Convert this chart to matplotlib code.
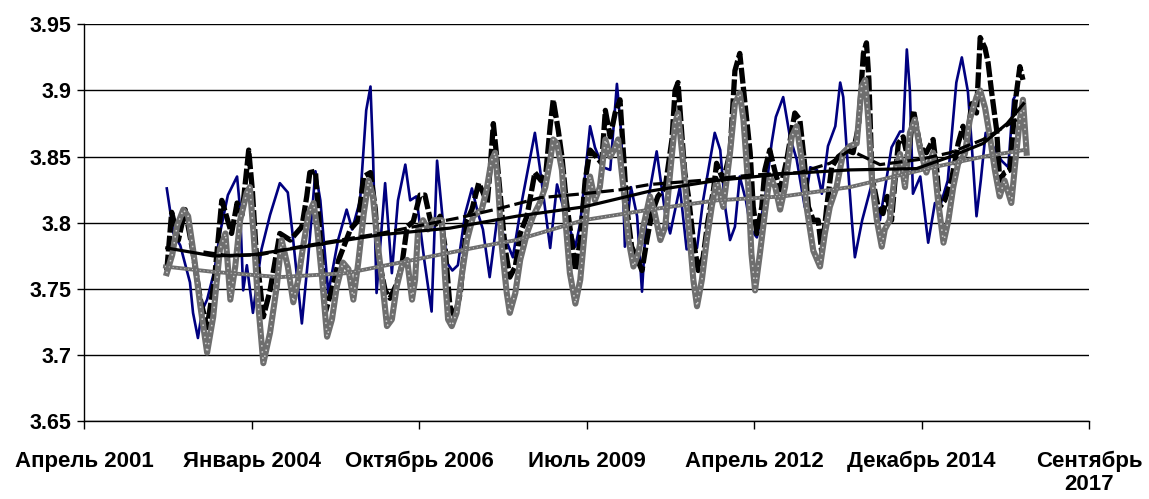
import datetime as dt
import matplotlib
matplotlib.use("Agg")
import matplotlib.pyplot as plt
import matplotlib.dates as mdates

# Series (decimal year, value)
blue_t = [2002.65, 2002.76, 2002.87, 2003.03, 2003.08, 2003.16, 2003.23, 2003.31, 2003.43, 2003.52,
          2003.65, 2003.80, 2003.85, 2003.90, 2003.96, 2004.06, 2004.20, 2004.34, 2004.50, 2004.63,
          2004.70, 2004.86, 2004.96, 2005.08, 2005.16, 2005.29, 2005.45, 2005.59, 2005.68, 2005.81,
          2005.91, 2005.98, 2006.02, 2006.08, 2006.22, 2006.33, 2006.43, 2006.55, 2006.63, 2006.73,
          2006.86, 2006.98, 2007.07, 2007.23, 2007.32, 2007.41, 2007.53, 2007.64, 2007.74, 2007.82,
          2007.93, 2008.05, 2008.18, 2008.31, 2008.46, 2008.67, 2008.75, 2008.92, 2009.03, 2009.16,
          2009.33, 2009.41, 2009.57, 2009.65, 2009.78, 2009.90, 2010.01, 2010.08, 2010.14, 2010.24,
          2010.34, 2010.42, 2010.50, 2010.66, 2010.80, 2010.88, 2011.04, 2011.15, 2011.32, 2011.42,
          2011.61, 2011.70, 2011.78, 2011.86, 2011.94, 2012.02, 2012.12, 2012.20, 2012.30, 2012.43,
          2012.54, 2012.61, 2012.73, 2012.84, 2012.95, 2013.08, 2013.17, 2013.28, 2013.36, 2013.46,
          2013.58, 2013.66, 2013.71, 2013.77, 2013.85, 2013.90, 2014.02, 2014.18, 2014.31, 2014.50,
          2014.64, 2014.69, 2014.75, 2014.80, 2014.85, 2014.97, 2015.10, 2015.21, 2015.29, 2015.42,
          2015.56, 2015.65, 2015.75, 2015.81, 2015.89, 2015.96, 2016.04, 2016.17, 2016.30, 2016.41,
          2016.49, 2016.57]
blue_v = [3.826, 3.792, 3.783, 3.755, 3.732, 3.713, 3.734, 3.742, 3.764, 3.792,
          3.821, 3.835, 3.810, 3.749, 3.768, 3.732, 3.780, 3.806, 3.830, 3.823,
          3.795, 3.724, 3.772, 3.839, 3.817, 3.747, 3.787, 3.810, 3.795, 3.817,
          3.885, 3.903, 3.855, 3.747, 3.830, 3.762, 3.817, 3.844, 3.817, 3.820,
          3.772, 3.733, 3.847, 3.770, 3.764, 3.768, 3.807, 3.826, 3.807, 3.795,
          3.759, 3.802, 3.789, 3.774, 3.817, 3.868, 3.842, 3.781, 3.829, 3.807,
          3.782, 3.800, 3.873, 3.857, 3.842, 3.840, 3.905, 3.868, 3.782, 3.827,
          3.805, 3.748, 3.812, 3.854, 3.807, 3.792, 3.827, 3.780, 3.781, 3.817,
          3.868, 3.855, 3.812, 3.787, 3.797, 3.835, 3.817, 3.795, 3.789, 3.817,
          3.860, 3.880, 3.895, 3.865, 3.848, 3.812, 3.842, 3.840, 3.822, 3.858,
          3.873, 3.906, 3.895, 3.853, 3.802, 3.774, 3.802, 3.830, 3.802, 3.857,
          3.869, 3.869, 3.931, 3.900, 3.822, 3.835, 3.785, 3.815, 3.812, 3.832,
          3.906, 3.925, 3.899, 3.860, 3.805, 3.832, 3.868, 3.857, 3.847, 3.842,
          3.893, 3.900]

black_t = [2002.65, 2002.73, 2002.84, 2002.95, 2003.07, 2003.20, 2003.31, 2003.43, 2003.55, 2003.62,
           2003.71, 2003.80, 2003.88, 2003.99, 2004.05, 2004.11, 2004.23, 2004.34, 2004.50, 2004.67,
           2004.86, 2004.94, 2004.99, 2005.08, 2005.19, 2005.24, 2005.38, 2005.46, 2005.65, 2005.78,
           2005.87, 2005.98, 2006.06, 2006.11, 2006.22, 2006.30, 2006.40, 2006.49, 2006.58, 2006.68,
           2006.79, 2006.87, 2006.96, 2007.05, 2007.12, 2007.20, 2007.28, 2007.36, 2007.45, 2007.56,
           2007.64, 2007.75, 2007.82, 2007.89, 2007.94, 2007.99, 2008.05, 2008.10, 2008.18, 2008.26,
           2008.35, 2008.43, 2008.54, 2008.67, 2008.77, 2008.85, 2008.92, 2008.97, 2009.05, 2009.11,
           2009.18, 2009.27, 2009.33, 2009.41, 2009.49, 2009.57, 2009.67, 2009.76, 2009.82, 2009.90,
           2009.98, 2010.06, 2010.12, 2010.17, 2010.25, 2010.33, 2010.42, 2010.50, 2010.58, 2010.68,
           2010.80, 2010.91, 2010.96, 2011.01, 2011.07, 2011.12, 2011.18, 2011.26, 2011.34, 2011.42,
           2011.50, 2011.59, 2011.64, 2011.75, 2011.86, 2011.94, 2012.02, 2012.10, 2012.19, 2012.24,
           2012.30, 2012.38, 2012.43, 2012.51, 2012.60, 2012.68, 2012.79, 2012.92, 2013.00, 2013.07,
           2013.14, 2013.22, 2013.30, 2013.36, 2013.44, 2013.52, 2013.63, 2013.77, 2013.87, 2013.96,
           2014.04, 2014.09, 2014.13, 2014.18, 2014.28, 2014.36, 2014.43, 2014.50, 2014.61, 2014.69,
           2014.77, 2014.86, 2014.97, 2015.07, 2015.18, 2015.24, 2015.29, 2015.37, 2015.48, 2015.59,
           2015.67, 2015.73, 2015.81, 2015.89, 2015.95, 2016.03, 2016.08, 2016.14, 2016.22, 2016.27,
           2016.35, 2016.44, 2016.52, 2016.60, 2016.65]
black_v = [3.764, 3.808, 3.787, 3.810, 3.780, 3.742, 3.721, 3.757, 3.817, 3.806,
           3.792, 3.815, 3.806, 3.855, 3.825, 3.780, 3.729, 3.749, 3.792, 3.787,
           3.797, 3.820, 3.838, 3.839, 3.767, 3.732, 3.755, 3.772, 3.795, 3.802,
           3.835, 3.838, 3.810, 3.774, 3.749, 3.743, 3.753, 3.767, 3.797, 3.801,
           3.821, 3.821, 3.802, 3.799, 3.805, 3.782, 3.737, 3.729, 3.747, 3.802,
           3.810, 3.830, 3.823, 3.815, 3.842, 3.875, 3.848, 3.823, 3.782, 3.759,
           3.767, 3.792, 3.805, 3.838, 3.832, 3.838, 3.873, 3.893, 3.870, 3.850,
           3.817, 3.787, 3.764, 3.787, 3.832, 3.855, 3.850, 3.845, 3.885, 3.865,
           3.883, 3.893, 3.850, 3.812, 3.782, 3.774, 3.764, 3.787, 3.807, 3.820,
           3.827, 3.863, 3.900, 3.906, 3.868, 3.838, 3.820, 3.787, 3.764, 3.774,
           3.802, 3.825, 3.845, 3.832, 3.853, 3.915, 3.928, 3.893, 3.853, 3.812,
           3.792, 3.812, 3.840, 3.855, 3.838, 3.825, 3.848, 3.883, 3.878, 3.848,
           3.812, 3.802, 3.802, 3.777, 3.812, 3.842, 3.850, 3.855, 3.853, 3.873,
           3.928, 3.936, 3.908, 3.835, 3.812, 3.807, 3.820, 3.802, 3.860, 3.865,
           3.848, 3.885, 3.857, 3.853, 3.863, 3.840, 3.812, 3.817, 3.832, 3.860,
           3.873, 3.860, 3.890, 3.883, 3.940, 3.932, 3.921, 3.898, 3.870, 3.832,
           3.838, 3.840, 3.890, 3.918, 3.908]

gray_t = [2002.65, 2002.74, 2002.82, 2002.92, 2003.00, 2003.08, 2003.20, 2003.31, 2003.41, 2003.52,
          2003.61, 2003.69, 2003.77, 2003.85, 2003.96, 2004.01, 2004.07, 2004.14, 2004.23, 2004.34,
          2004.45, 2004.53, 2004.63, 2004.72, 2004.80, 2004.88, 2004.97, 2005.05, 2005.11, 2005.19,
          2005.27, 2005.35, 2005.43, 2005.53, 2005.62, 2005.70, 2005.78, 2005.87, 2005.95, 2006.02,
          2006.09, 2006.17, 2006.25, 2006.33, 2006.41, 2006.49, 2006.58, 2006.66, 2006.71, 2006.76,
          2006.84, 2006.92, 2007.02, 2007.15, 2007.20, 2007.25, 2007.31, 2007.39, 2007.47, 2007.56,
          2007.66, 2007.80, 2007.88, 2007.96, 2008.02, 2008.07, 2008.13, 2008.21, 2008.26, 2008.35,
          2008.43, 2008.54, 2008.64, 2008.75, 2008.84, 2008.92, 2008.97, 2009.03, 2009.11, 2009.18,
          2009.24, 2009.33, 2009.41, 2009.49, 2009.57, 2009.65, 2009.73, 2009.82, 2009.90, 2009.96,
          2010.03, 2010.12, 2010.20, 2010.28, 2010.36, 2010.44, 2010.55, 2010.63, 2010.72, 2010.80,
          2010.88, 2010.96, 2011.01, 2011.10, 2011.18, 2011.26, 2011.32, 2011.40, 2011.48, 2011.56,
          2011.64, 2011.75, 2011.86, 2011.94, 2012.02, 2012.08, 2012.16, 2012.21, 2012.27, 2012.35,
          2012.43, 2012.51, 2012.60, 2012.68, 2012.76, 2012.87, 2012.95, 2013.03, 2013.11, 2013.22,
          2013.33, 2013.41, 2013.49, 2013.60, 2013.71, 2013.82, 2013.93, 2014.01, 2014.07, 2014.12,
          2014.18, 2014.26, 2014.34, 2014.39, 2014.47, 2014.56, 2014.64, 2014.72, 2014.80, 2014.88,
          2014.97, 2015.07, 2015.18, 2015.26, 2015.35, 2015.43, 2015.51, 2015.59, 2015.70, 2015.78,
          2015.89, 2015.95, 2016.03, 2016.11, 2016.19, 2016.27, 2016.35, 2016.46, 2016.53, 2016.60,
          2016.65, 2016.71]
gray_v = [3.762, 3.776, 3.798, 3.810, 3.805, 3.780, 3.737, 3.702, 3.729, 3.780,
          3.792, 3.742, 3.767, 3.802, 3.823, 3.827, 3.792, 3.742, 3.694, 3.717,
          3.752, 3.787, 3.767, 3.740, 3.757, 3.782, 3.807, 3.815, 3.795, 3.757,
          3.714, 3.727, 3.752, 3.770, 3.765, 3.742, 3.770, 3.807, 3.832, 3.820,
          3.787, 3.757, 3.722, 3.727, 3.752, 3.767, 3.772, 3.742, 3.757, 3.795,
          3.802, 3.795, 3.802, 3.802, 3.759, 3.727, 3.722, 3.732, 3.759, 3.787,
          3.805, 3.810, 3.825, 3.847, 3.853, 3.827, 3.782, 3.747, 3.732, 3.747,
          3.772, 3.792, 3.805, 3.815, 3.827, 3.847, 3.863, 3.860, 3.840, 3.795,
          3.762, 3.739, 3.757, 3.797, 3.835, 3.817, 3.827, 3.863, 3.850, 3.855,
          3.863, 3.825, 3.787, 3.767, 3.777, 3.797, 3.820, 3.807, 3.787, 3.797,
          3.838, 3.875, 3.883, 3.842, 3.800, 3.757, 3.737, 3.757, 3.787, 3.812,
          3.832, 3.812, 3.853, 3.890, 3.898, 3.878, 3.827, 3.777, 3.749, 3.777,
          3.807, 3.835, 3.827, 3.810, 3.827, 3.865, 3.873, 3.848, 3.812, 3.779,
          3.767, 3.792, 3.812, 3.827, 3.853, 3.858, 3.860, 3.903, 3.908, 3.878,
          3.832, 3.802, 3.782, 3.795, 3.802, 3.840, 3.852, 3.827, 3.868, 3.878,
          3.855, 3.838, 3.853, 3.817, 3.785, 3.802, 3.827, 3.845, 3.852, 3.878,
          3.895, 3.900, 3.887, 3.865, 3.840, 3.820, 3.832, 3.815, 3.848, 3.878,
          3.893, 3.853]

# trend lines
trend_solid_t = [2002.65, 2003.41, 2004.07, 2005.05, 2006.14, 2007.28, 2008.37, 2009.46, 2010.55,
                 2011.64, 2012.73, 2013.82, 2014.91, 2015.46, 2016.00, 2016.39, 2016.66]
trend_solid_v = [3.781, 3.775, 3.776, 3.783, 3.791, 3.796, 3.805, 3.812, 3.824,
                 3.832, 3.837, 3.840, 3.841, 3.850, 3.860, 3.875, 3.890]
trend_dash_t = [2003.25, 2003.69, 2004.18, 2004.83, 2005.48, 2006.14, 2006.79, 2007.45, 2008.10,
                2008.76, 2009.46, 2010.06, 2010.55, 2011.37, 2012.18, 2013.00, 2013.49, 2013.82,
                2014.31, 2014.97, 2015.46, 2016.00, 2016.55]
trend_dash_v = [3.778, 3.775, 3.776, 3.782, 3.787, 3.792, 3.798, 3.804, 3.811,
                3.819, 3.822, 3.825, 3.829, 3.832, 3.836, 3.838, 3.845, 3.855,
                3.844, 3.848, 3.853, 3.863, 3.878]
trend_gray_t = [2002.62, 2003.41, 2004.50, 2005.59, 2006.68, 2007.77, 2008.37, 2009.46, 2010.55,
                2011.64, 2012.73, 2013.82, 2015.18, 2016.00, 2016.66]
trend_gray_v = [3.767, 3.763, 3.759, 3.762, 3.772, 3.782, 3.787, 3.802, 3.810,
                3.817, 3.820, 3.827, 3.842, 3.850, 3.855]

tick_dates = ["2001-04-19", "2004-01-15", "2006-10-12", "2009-07-08",
              "2012-04-03", "2014-12-29", "2017-09-24"]
tick_labels = ["Апрель 2001", "Январь 2004", "Октябрь 2006", "Июль 2009",
               "Апрель 2012", "Декабрь 2014", "Сентябрь\n2017"]
y_ticks = [3.65, 3.70, 3.75, 3.80, 3.85, 3.90, 3.95]


def to_num(years):
    out = []
    for y in years:
        base = mdates.date2num(dt.datetime(int(y), 1, 1))
        out.append(base + (y - int(y)) * 365.25)
    return out


def dotted_gray(ax, t, v, lw, z):
    # thick grey line with a light speckle on top, like the Excel dotted pattern
    ax.plot(to_num(t), v, color="#6e6e6e", lw=lw, zorder=z, solid_joinstyle="round")
    ax.plot(to_num(t), v, color="#d0d0d0", lw=lw * 0.25, zorder=z + 0.1,
            linestyle=(0, (1.0, 3.0)))


plt.rcParams["font.family"] = ["Liberation Sans", "DejaVu Sans"]
fig = plt.figure(figsize=(11.49, 4.99), dpi=100)
ax = fig.add_axes([0.0731, 0.1555, 0.8747, 0.7958])

ax.plot(to_num(blue_t), blue_v, color="#000080", lw=1.9, zorder=2)
ax.plot(to_num(black_t), black_v, color="black", lw=3.8, zorder=3,
        linestyle=(0, (3, 0.6)))
dotted_gray(ax, gray_t, gray_v, 4.4, 4)

ax.plot(to_num(trend_solid_t), trend_solid_v, color="black", lw=2.3, zorder=6)
ax.plot(to_num(trend_dash_t), trend_dash_v, color="black", lw=2.3, zorder=6,
        linestyle=(0, (4, 1.5)))
dotted_gray(ax, trend_gray_t, trend_gray_v, 2.8, 5)

ax.set_xlim(mdates.datestr2num(tick_dates[0]), mdates.datestr2num(tick_dates[-1]))
ax.set_ylim(3.65, 3.95)
ax.set_xticks([mdates.datestr2num(d) for d in tick_dates])
ax.set_xticklabels(tick_labels, fontsize=16, fontweight="bold", linespacing=1.12)
ax.set_yticks(y_ticks)
ax.set_yticklabels([f"{v:g}" for v in y_ticks], fontsize=15.5, fontweight="bold")
ax.tick_params(axis="x", direction="out", length=6, width=1, pad=15)
ax.tick_params(axis="y", direction="out", length=5, width=1, pad=4)
ax.grid(axis="y", color="black", lw=1.0)
ax.set_axisbelow(True)
for s in ["top", "right"]:
    ax.spines[s].set_visible(False)
for s in ["left", "bottom"]:
    ax.spines[s].set_linewidth(1.0)

fig.savefig("out.png", dpi=100)
